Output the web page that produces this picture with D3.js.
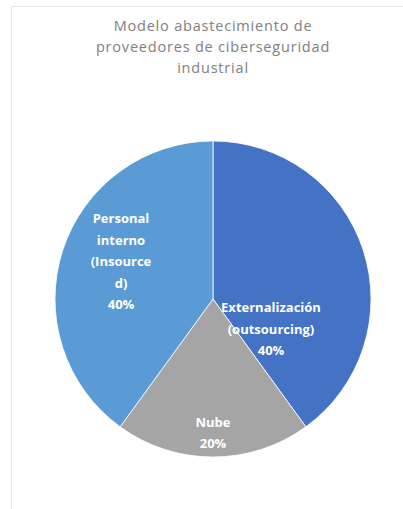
<!DOCTYPE html>
<html><head><meta charset="utf-8">
<script src="https://cdn.jsdelivr.net/npm/d3@7"></script>
<style>body{margin:0;background:#fff}svg{display:block}</style>
</head><body>
<svg id="c" width="403" height="509"></svg>
<script>
const titleLines = ["Modelo abastecimiento de", "proveedores de ciberseguridad", "industrial"];
const categories = ["Externalización (outsourcing)", "Nube", "Personal interno (Insourced)"];
const values = [40, 20, 40];
const labelLines = [["Externalización", "(outsourcing)", "40%"], ["Nube", "20%"], ["Personal", "interno", "(Insource", "d)", "40%"]];
const colors = ["#4472C4", "#A5A5A5", "#5B9BD5"];

const svg = d3.select("#c");
const W = 403, H = 509;
// chart border
svg.append("rect").attr("x", 11.5).attr("y", 6.5).attr("width", W).attr("height", H)
  .attr("fill", "#fff").attr("stroke", "#e6e6e6");

const title = svg.append("text").attr("text-anchor", "middle")
  .attr("font-family", "Open Sans, sans-serif").attr("font-size", 14.5)
  .attr("letter-spacing", 0.8).attr("fill", "#808080");
titleLines.forEach((t, i) => title.append("tspan").attr("x", 213).attr("y", 31 + i * 21).text(t));

const cx = 213, cy = 299, R = 158;
const pie = d3.pie().sort(null).value(d => d)(values);
const arc = d3.arc().innerRadius(0).outerRadius(R);
const g = svg.append("g").attr("transform", `translate(${cx},${cy})`);
g.selectAll("path").data(pie).join("path")
  .attr("d", arc).attr("fill", (d, i) => colors[i]).attr("stroke", "#fff").attr("stroke-width", 0.8);

// label anchors (layout): first-line baseline relative to pie centre
const labelPos = [[58, 13], [0, 128], [-92, -76]];
const lineH = [21.5, 21, 21.5];
pie.forEach((d, i) => {
  const t = g.append("text").attr("text-anchor", "middle")
    .attr("font-family", "Open Sans, sans-serif").attr("font-weight", "bold")
    .attr("font-size", 13).attr("fill", "#fff");
  labelLines[i].forEach((s, j) => t.append("tspan").attr("x", labelPos[i][0])
    .attr("y", labelPos[i][1] + j * lineH[i]).text(s));
});
</script>
</body></html>
